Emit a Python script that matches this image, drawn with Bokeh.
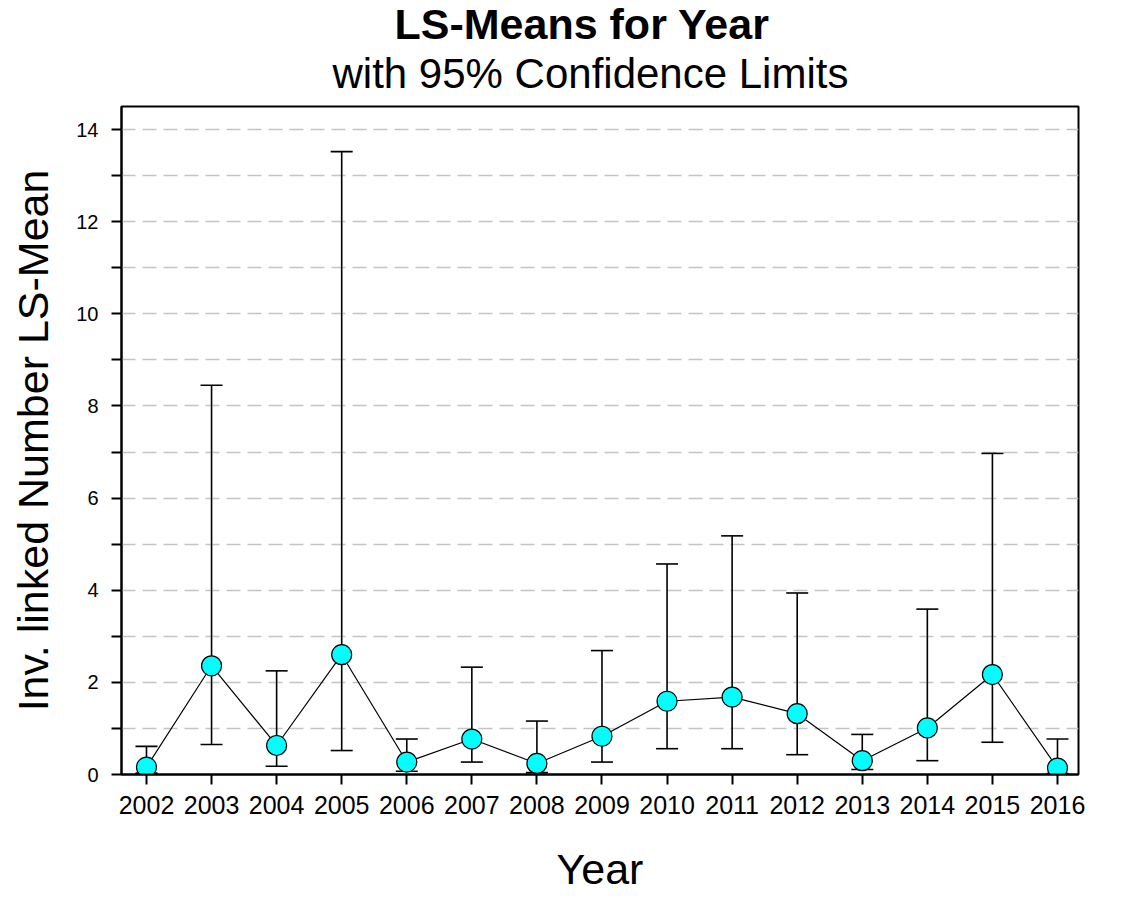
from bokeh.plotting import figure
from bokeh.models import Range1d, FixedTicker, Title, ColumnDataSource
from bokeh.embed import file_html
from bokeh.resources import INLINE

years = [2002, 2003, 2004, 2005, 2006, 2007, 2008, 2009, 2010, 2011, 2012, 2013, 2014, 2015, 2016]
means = [0.16, 2.36, 0.63, 2.60, 0.27, 0.77, 0.24, 0.83, 1.59, 1.68, 1.32, 0.30, 1.01, 2.17, 0.14]
upper = [0.61, 8.45, 2.25, 13.52, 0.77, 2.33, 1.16, 2.69, 4.57, 5.18, 3.94, 0.87, 3.59, 6.97, 0.77]
lower = [0.03, 0.65, 0.18, 0.52, 0.07, 0.27, 0.04, 0.27, 0.56, 0.56, 0.43, 0.11, 0.30, 0.70, 0.02]
year_labels = [str(y) for y in years]
y_major = [0, 2, 4, 6, 8, 10, 12, 14]
y_minor = [1, 3, 5, 7, 9, 11, 13]
y_grid = list(range(0, 15))

title_text = "LS-Means for Year"
subtitle_text = "with 95% Confidence Limits"
x_label = "Year"
y_label = "Inv. linked Number LS-Mean"

FONT = "Liberation Sans"

src = ColumnDataSource(dict(x=years, m=means, u=upper, l=lower))

p = figure(width=1100, height=895, output_backend="svg", toolbar_location=None,
           x_range=Range1d(2001.616, 2016.323), y_range=Range1d(0, 14.5),
           min_border_left=121, min_border_right=22, min_border_top=106, min_border_bottom=120)
p.background_fill_color = "white"
p.border_fill_color = "white"
p.outline_line_color = "black"
p.outline_line_width = 2

# titles (subtitle nearest the frame, main title above it)
p.add_layout(Title(text=subtitle_text, text_font=FONT, text_font_size="42px",
                   text_font_style="normal", text_color="black", align="left",
                   standoff=20, offset=211), "above")
p.add_layout(Title(text=title_text, text_font=FONT, text_font_size="43px",
                   text_font_style="bold", text_color="black", align="left",
                   standoff=-21, offset=273), "above")

# grids
p.xgrid.visible = False
p.ygrid.ticker = FixedTicker(ticks=y_grid)
p.ygrid.grid_line_color = "#c4c4c4"
p.ygrid.grid_line_width = 1.5
p.ygrid.grid_line_dash = "14 7"

# x axis
xa = p.xaxis[0]
xa.ticker = FixedTicker(ticks=years)
xa.major_label_overrides = {y: s for y, s in zip(years, year_labels)}
xa.axis_line_width = 2
xa.axis_line_color = "black"
xa.major_tick_out = 10
xa.major_tick_in = 0
xa.major_tick_line_width = 2
xa.minor_tick_line_color = None
xa.major_label_text_font = FONT
xa.major_label_text_font_size = "25px"
xa.major_label_text_color = "black"
xa.major_label_standoff = 11
xa.axis_label = x_label
xa.axis_label_text_font = FONT
xa.axis_label_text_font_size = "43px"
xa.axis_label_text_font_style = "normal"
xa.axis_label_text_color = "black"
xa.axis_label_standoff = 28

# y axis
ya = p.yaxis[0]
ya.ticker = FixedTicker(ticks=y_major, minor_ticks=y_minor)
ya.axis_line_width = 2
ya.axis_line_color = "black"
ya.major_tick_out = 10
ya.major_tick_in = 0
ya.minor_tick_out = 10
ya.minor_tick_in = 0
ya.major_tick_line_width = 2
ya.minor_tick_line_width = 2
ya.minor_tick_line_color = "black"
ya.major_label_text_font = FONT
ya.major_label_text_font_size = "20px"
ya.major_label_text_color = "black"
ya.major_label_standoff = 13
ya.axis_label = y_label
ya.axis_label_text_font = FONT
ya.axis_label_text_font_size = "43px"
ya.axis_label_text_font_style = "normal"
ya.axis_label_text_color = "black"
ya.axis_label_standoff = 16

# error bars
p.segment(x0="x", y0="l", x1="x", y1="u", source=src, line_color="black", line_width=1.6)
p.scatter(x="x", y="u", source=src, marker="dash", size=22, line_color="black", line_width=1.6)
p.scatter(x="x", y="l", source=src, marker="dash", size=22, line_color="black", line_width=1.6)

# mean line and markers
p.line(x="x", y="m", source=src, line_color="black", line_width=1.2)
p.scatter(x="x", y="m", source=src, marker="circle", size=20, fill_color="#00FFFF",
          line_color="black", line_width=1.2)

open("out.html", "w").write(file_html(p, INLINE))
